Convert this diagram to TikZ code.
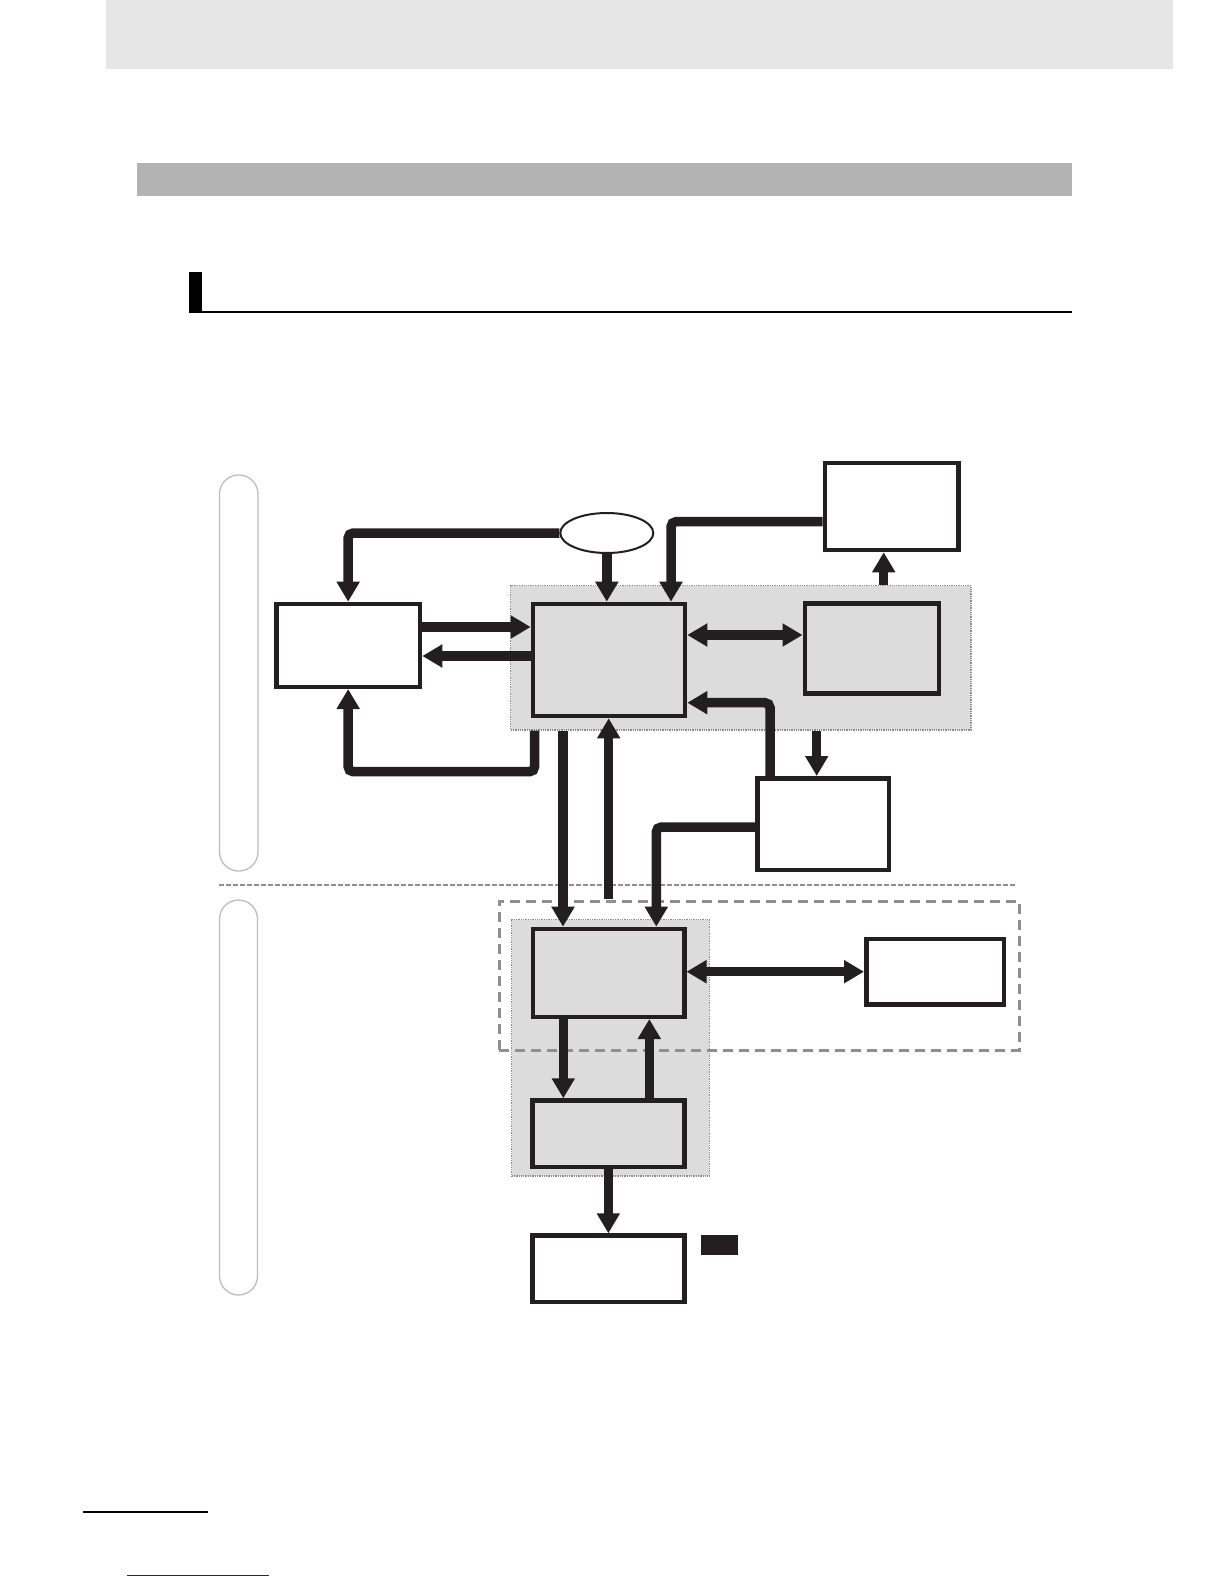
\documentclass[tikz,border=0pt]{standalone}
\usetikzlibrary{arrows.meta,shapes.geometric}
\definecolor{ink}{HTML}{231F20}
\definecolor{regfill}{HTML}{DCDCDC}
\definecolor{regline}{HTML}{8C8C8C}
\definecolor{dashgray}{HTML}{8F8F8F}
\definecolor{pillgray}{HTML}{BDBDBD}
\definecolor{topband}{HTML}{E6E6E6}
\definecolor{secbar}{HTML}{B3B3B3}
\definecolor{linkblue}{HTML}{1F1F8F}
\tikzset{
  boxw/.style={draw=ink, fill=white, line width=4.5pt, inner sep=0pt, rectangle},
  boxg/.style={boxw, fill=regfill},
  region/.style={draw=regline, fill=regfill, line width=1.3pt, densely dotted, inner sep=0pt, rectangle},
  grpbox/.style={draw=dashgray, line width=2.6pt, dash pattern=on 10pt off 6pt, inner sep=0pt, rectangle},
  pill/.style={draw=pillgray, line width=1.3pt, rounded corners=19pt},
  sepline/.style={draw=dashgray, line width=2.3pt, dash pattern=on 4.5pt off 2.5pt},
  arr/.style={draw=ink, line width=9.5pt, rounded corners=5pt, -{Triangle[length=20pt,width=22pt]}},
  darr/.style={draw=ink, line width=9.5pt, {Triangle[length=20pt,width=22pt]}-{Triangle[length=20pt,width=22pt]}},
}
\begin{document}
\begin{tikzpicture}[x=1pt,y=-1pt]
\useasboundingbox (0,0) rectangle (1224,1584);
\fill[white] (0,0) rectangle (1224,1584);
% page decorations
\fill[topband] (106,0) rectangle (1173,69);
\fill[secbar] (137,163) rectangle (1072,196);
\fill[black] (189,272) rectangle (202,312);
\draw[black, line width=2pt] (189,311.5) -- (1072,311.5);
\draw[black, line width=2.3pt] (83,1512) -- (208,1512);
\draw[linkblue, line width=1pt] (127,1575) -- (269,1575);
% side pills and separator
\draw[pill] (219.5,475) rectangle (258,871);
\draw[pill] (219.5,900) rectangle (257.5,1295);
\draw[sepline] (219.3,885) -- (1015,885);
% shaded regions
\node[region, minimum width=460.5pt, minimum height=144.3pt] (r1) at (740.85,657.75) {};
\node[region, minimum width=197.8pt, minimum height=256.5pt] (r2) at (610.5,1047.85) {};
\node[grpbox, minimum width=520pt, minimum height=149.2pt] (grp) at (759.25,975.85) {};
% boxes
\node[ellipse, draw=ink, fill=white, line width=2pt, inner sep=0pt, minimum width=93pt, minimum height=40pt] (ell) at (606.8,533) {};
\node[boxw, minimum width=143.8pt, minimum height=82.8pt] (A) at (348.15,645.35) {};
\node[boxg, minimum width=152.1pt, minimum height=112.1pt] (B) at (609,660) {};
\node[boxg, minimum width=134pt, minimum height=90.2pt] (C) at (871.75,648.35) {};
\node[boxw, minimum width=133.5pt, minimum height=87.1pt] (D) at (891.5,506.5) {};
\node[boxw, minimum width=131.8pt, minimum height=91.8pt] (E) at (823.15,824.15) {};
\node[boxg, minimum width=151.5pt, minimum height=87.8pt] (F) at (608.5,972.85) {};
\node[boxw, minimum width=137.5pt, minimum height=65.5pt] (G) at (935,971.7) {};
\node[boxg, minimum width=152.2pt, minimum height=66.5pt] (H) at (608.35,1133.8) {};
\node[boxw, minimum width=152.2pt, minimum height=66.5pt] (I) at (608.35,1268.8) {};
\node[fill=ink, inner sep=0pt, minimum width=36.7pt, minimum height=20pt] (tag) at (719.35,1245) {};
% connectors
\draw[arr] (ell.west) -| (A.north);
\draw[arr] (ell.south) -- (ell.south |- B.north);
\draw[arr] (D.west |- 0,521.7) -| (671,0 |- B.north);
\draw[arr] (A.east |- 0,627) -- (B.west |- 0,627);
\draw[arr] (B.west |- 0,656) -- (A.east |- 0,656);
\draw[darr] (B.east |- 0,635) -- (C.west |- 0,635);
\draw[arr] (883.7,0 |- r1.north) -- (883.7,0 |- D.south);
\draw[arr] (534.6,0 |- r1.south) -- (534.6,771.7) -| (A.south);
\draw[arr] (770,0 |- E.north) |- (B.east |- 0,702.7);
\draw[arr] (816.7,0 |- r1.south) -- (816.7,0 |- E.north);
\draw[arr] (563,0 |- r1.south) -- (563,0 |- F.north);
\coordinate (upstart) at (608.7,899);
\draw[arr] (upstart) -- (upstart |- B.south);
\draw[arr] (E.west |- 0,827) -| (656.3,0 |- F.north);
\draw[darr] (F.east |- 0,971.7) -- (G.west);
\draw[arr] (563.3,0 |- F.south) -- (563.3,0 |- H.north);
\draw[arr] (649.3,0 |- H.north) -- (649.3,0 |- F.south);
\draw[arr] (H.south) -- (I.north);
\end{tikzpicture}
\end{document}
